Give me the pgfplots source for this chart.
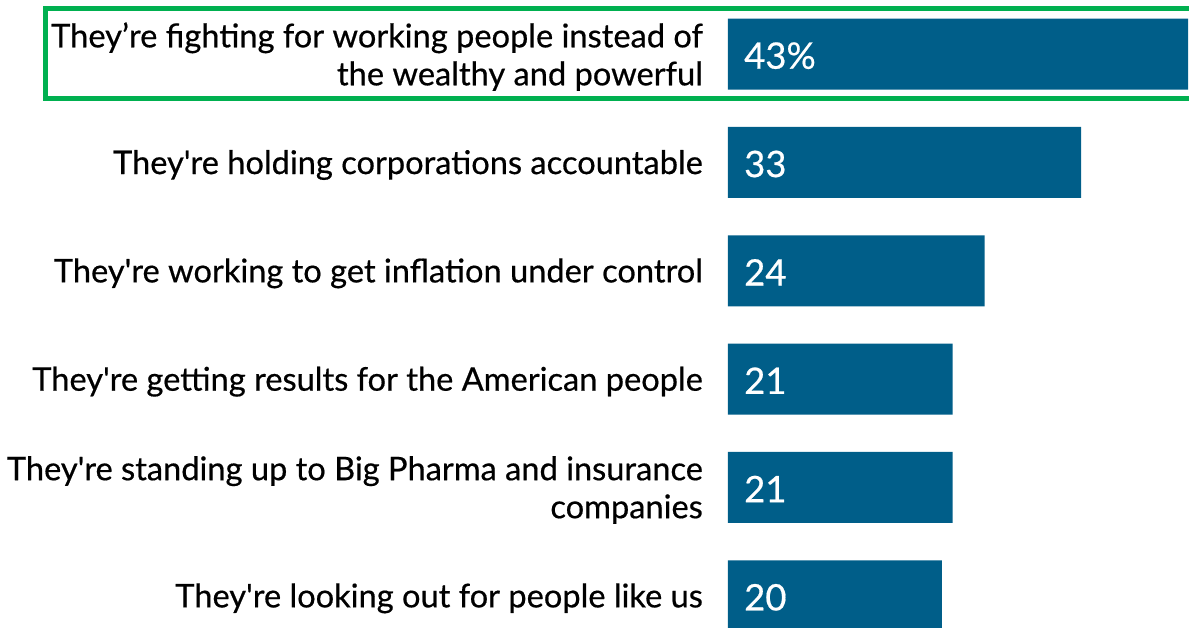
\documentclass[border=0pt]{standalone}
\usepackage{pgfplots}
\pgfplotsset{compat=1.18}
\usepackage{pgfplotstable}
\usepackage{fontspec}
\setmainfont{Lato}[FakeBold=0.5]
\definecolor{barblue}{RGB}{0,94,137}
\definecolor{boxgreen}{RGB}{0,176,80}
\pgfplotstableread{
y value label
0 43 {43\%}
1 33 33
2 24 24
3 21 21
4 21 21
5 20 20
}\data
\begin{document}
\begin{tikzpicture}[x=1pt,y=1pt]
\begin{axis}[
  at={(728pt,628pt)}, anchor=north west,
  scale only axis, width=460pt, height=650pt,
  xmin=0, xmax=43, ymin=-0.5, ymax=5.5, y dir=reverse,
  axis line style={draw=none}, tick style={draw=none},
  xtick=\empty, ytick={0,1,2,3,4,5},
  yticklabels={{They’re fighting for working people instead of\\the wealthy and powerful},
    {They\textquotesingle re holding corporations accountable},
    {They\textquotesingle re working to get inflation under control},
    {They\textquotesingle re getting results for the American people},
    {They\textquotesingle re standing up to Big Pharma and insurance\\companies},
    {They\textquotesingle re looking out for people like us}},
  yticklabel style={align=right, font=\fontsize{32.6}{38}\selectfont, inner sep=0pt, xshift=-25pt, yshift=-2.5pt, text=black},
  clip=false]
\addplot[xbar, bar width=71pt, fill=barblue, draw=none] table[x=value, y=y] {\data};
\addplot[draw=none, mark=none, nodes near coords, point meta=explicit symbolic,
  nodes near coords style={anchor=west, xshift=16pt, yshift=-1.5pt, text=white, inner sep=0pt, font=\fontsize{36.5}{40}\selectfont}]
  table[x expr=0, y=y, meta=label] {\data};
\end{axis}
\draw[boxgreen, line width=5pt] (1195pt,628pt-8.5pt) -- (45pt,628pt-8.5pt) -- (45pt,628pt-98.5pt) -- (1195pt,628pt-98.5pt);
\pgfresetboundingbox
\useasboundingbox (0,0) rectangle (1189pt,628pt);
\end{tikzpicture}
\end{document}
